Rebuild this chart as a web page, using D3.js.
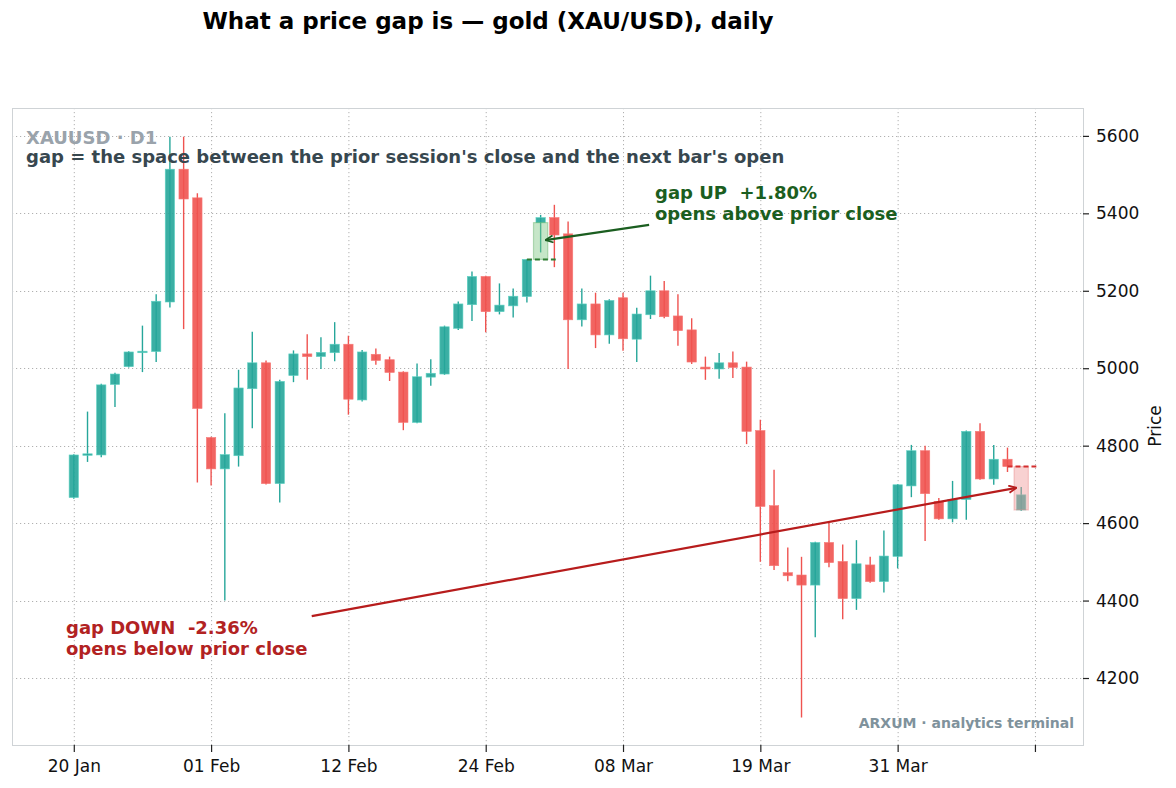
<!DOCTYPE html>
<html>
<head>
<meta charset="utf-8">
<script src="https://cdn.jsdelivr.net/npm/d3@7"></script>
<style>
  html, body { margin: 0; padding: 0; background: #ffffff; }
  svg { display: block; font-family: "DejaVu Sans", sans-serif; }
</style>
</head>
<body>
<svg id="chart" width="1176" height="788"></svg>
<script>
// ---- data ----
const opens  = [4666,4775,4776,4958,5004,5040,5043,5171,5514,5440,
                4821,4740,4774,4947,5014,4702,4981,5037,5030,5040,
                5062,4918,5036,5022,4990,4860,4977,4985,5103,5164,
                5237,5146,5161,5185,5376,5389,5347,5125,5166,5086,
                5182,5075,5138,5200,5135,5099,5003,4998,5014,5003,
                4839,4645,4472,4466,4440,4550,4501,4405,4492,4449,
                4514,4696,4787,4656,4611,4661,4837,4714,4765,4634];
const highs  = [4778,4888,4960,4988,5044,5110,5191,5598,5598,5452,
                4823,4884,4996,5094,5020,4970,5046,5088,5080,5119,
                5084,5047,5051,5030,4992,5012,5023,5110,5172,5250,
                5239,5219,5206,5282,5396,5422,5379,5206,5195,5178,
                5195,5156,5239,5225,5191,5129,5030,5039,5043,5017,
                4867,4738,4537,4513,4552,4604,4545,4556,4513,4581,
                4701,4802,4800,4665,4709,4839,4858,4802,4795,4693];
const lows   = [4663,4758,4770,4900,5002,4990,5016,5157,5101,4705,
                4697,4400,4746,4845,4700,4653,4964,4970,4998,5018,
                4880,4914,5009,4967,4840,4858,4955,4983,5099,5122,
                5093,5139,5131,5170,5299,5261,4998,5108,5052,5063,
                5045,5016,5127,5129,5058,5011,4970,4973,4975,4804,
                4500,4479,4450,4098,4305,4486,4352,4376,4446,4421,
                4483,4667,4554,4609,4602,4609,4712,4699,4732,4632];
const closes = [4776,4779,4957,4985,5042,5044,5173,5514,5437,4896,
                4740,4777,4949,5014,4702,4966,5037,5030,5041,5062,
                4920,5042,5020,4989,4860,4978,4987,5107,5166,5237,
                5146,5163,5186,5281,5389,5344,5125,5166,5086,5175,
                5076,5140,5200,5133,5097,5016,4998,5014,5002,4837,
                4643,4490,4464,4440,4550,4498,4405,4495,4449,4515,
                4699,4787,4676,4611,4661,4837,4714,4765,4746,4673];
const tickIdx    = [0,10,20,30,40,50,60,70];
const tickLabels = ["20 Jan","01 Feb","12 Feb","24 Feb","08 Mar","19 Mar","31 Mar",""];
const priceTicks = [4200,4400,4600,4800,5000,5200,5400,5600];
const gapUpIdx = 34;     // bar that opened above prior close
const gapDownIdx = 69;   // bar that opened below prior close

const bars = opens.map((o, i) => ({ i, o, h: highs[i], l: lows[i], c: closes[i] }));

// ---- layout ----
const svg = d3.select("#chart");
const L = 12, R = 1083, T = 108, B = 745;
const x = d3.scaleLinear().domain([-4.5, 73.5]).range([L, R]);
const y = d3.scaleLinear().domain([4027, 5672]).range([B, T]);
const UP = "#26a69a", DN = "#ef5350";
const slot = x(1) - x(0);
const bodyW = slot * 0.68;
const FONT = "DejaVu Sans";

// clip
const defs = svg.append("defs");
defs.append("clipPath").attr("id", "plotclip")
  .append("rect").attr("x", L).attr("y", T).attr("width", R - L).attr("height", B - T);

// grid
const grid = svg.append("g").attr("stroke", "#b0b0b0").attr("stroke-width", 1)
  .attr("stroke-dasharray", "1.2,2.8");
grid.selectAll("line.v").data(tickIdx).join("line")
  .attr("x1", d => x(d) + 0.5).attr("x2", d => x(d) + 0.5).attr("y1", T).attr("y2", B);
grid.selectAll("line.h").data(priceTicks).join("line")
  .attr("x1", L).attr("x2", R).attr("y1", d => Math.round(y(d)) + 0.5).attr("y2", d => Math.round(y(d)) + 0.5);

// frame
svg.append("rect").attr("x", L + 0.5).attr("y", T + 0.5).attr("width", R - L).attr("height", B - T)
  .attr("fill", "none").attr("stroke", "#cfd3d6").attr("stroke-width", 1);

// axes
const xAxis = d3.axisBottom(x).tickValues(tickIdx).tickFormat((d, k) => tickLabels[k])
  .tickSize(7).tickPadding(7.5);
const gx = svg.append("g").attr("transform", `translate(0,${B})`).call(xAxis);
gx.select(".domain").remove();
gx.selectAll("text").attr("font-size", 17).attr("fill", "#111").attr("font-family", FONT);
gx.selectAll("line").attr("stroke", "#222").attr("stroke-width", 1.2);

const yAxis = d3.axisRight(y).tickValues(priceTicks).tickFormat(d3.format("d")).tickSize(6).tickPadding(7);
const gy = svg.append("g").attr("transform", `translate(${R},0)`).call(yAxis);
gy.select(".domain").remove();
gy.selectAll("text").attr("font-size", 17).attr("fill", "#111").attr("font-family", FONT);
gy.selectAll("line").attr("stroke", "#222").attr("stroke-width", 1.2);

svg.append("text").attr("transform", `translate(1161,426) rotate(-90)`)
  .attr("text-anchor", "middle").attr("font-size", 17).attr("fill", "#111").text("Price");

// candles
const plot = svg.append("g").attr("clip-path", "url(#plotclip)");
const cg = plot.selectAll("g.candle").data(bars).join("g").attr("class", "candle");
cg.append("line")
  .attr("x1", d => x(d.i)).attr("x2", d => x(d.i))
  .attr("y1", d => y(d.h)).attr("y2", d => y(d.l))
  .attr("stroke", d => d.c >= d.o ? UP : DN).attr("stroke-width", 1.4);
cg.append("rect")
  .attr("x", d => x(d.i) - bodyW / 2).attr("width", bodyW)
  .attr("y", d => y(Math.max(d.o, d.c)))
  .attr("height", d => Math.max(1.5, Math.abs(y(d.o) - y(d.c))))
  .attr("fill", d => d.c >= d.o ? UP : DN).attr("fill-opacity", 0.9)
  .attr("stroke", d => d.c >= d.o ? "#5fd3c4" : "#f77a77").attr("stroke-width", 0.6);

// gap highlights
function gapBox(idx, fill, stroke, dash) {
  const prevClose = closes[idx - 1], open = opens[idx];
  plot.append("rect")
    .attr("x", x(idx - 0.52)).attr("width", x(idx + 0.52) - x(idx - 0.52))
    .attr("y", y(Math.max(prevClose, open)))
    .attr("height", Math.abs(y(prevClose) - y(open)))
    .attr("fill", fill).attr("fill-opacity", 0.45)
    .attr("stroke", stroke).attr("stroke-opacity", 0.35).attr("stroke-width", 1.2);
  plot.append("line")
    .attr("x1", x(idx - 1)).attr("x2", x(idx + 1.1))
    .attr("y1", y(prevClose)).attr("y2", y(prevClose))
    .attr("stroke", dash).attr("stroke-width", 2).attr("stroke-dasharray", "5,3");
}
gapBox(gapUpIdx, "#81c784", "#43a047", "#2e7d32");
gapBox(gapDownIdx, "#ef9a9a", "#e57373", "#d32f2f");

// arrows
function marker(id, color) {
  defs.append("marker").attr("id", id).attr("viewBox", "0 0 10 10").attr("refX", 9.5).attr("refY", 5)
    .attr("markerWidth", 9).attr("markerHeight", 9).attr("markerUnits", "userSpaceOnUse").attr("orient", "auto")
    .append("path").attr("d", "M1,1 L9.5,5 L1,9").attr("fill", "none").attr("stroke", color).attr("stroke-width", 2);
}
marker("arrUp", "#1b5e20");
marker("arrDn", "#b71c1c");

const upPct = (opens[gapUpIdx] / closes[gapUpIdx - 1] - 1) * 100;
const dnPct = (opens[gapDownIdx] / closes[gapDownIdx - 1] - 1) * 100;

svg.append("line")
  .attr("x1", x(41.9)).attr("y1", y(5370)).attr("x2", x(34.35)).attr("y2", y(5331))
  .attr("stroke", "#1b5e20").attr("stroke-width", 2.2).attr("marker-end", "url(#arrUp)");
svg.append("line")
  .attr("x1", x(17.33)).attr("y1", y(4360)).attr("x2", x(68.65)).attr("y2", y(4691))
  .attr("stroke", "#b71c1c").attr("stroke-width", 2.2).attr("marker-end", "url(#arrDn)");

const upT = svg.append("text").attr("font-size", 18).attr("font-weight", "bold").attr("fill", "#1b5e20");
upT.append("tspan").attr("x", 655).attr("y", 199).attr("xml:space", "preserve")
  .text("gap UP  +" + upPct.toFixed(2) + "%");
upT.append("tspan").attr("x", 655).attr("y", 220).text("opens above prior close");

const dnT = svg.append("text").attr("font-size", 18).attr("font-weight", "bold").attr("fill", "#b22222");
dnT.append("tspan").attr("x", 66).attr("y", 634).attr("xml:space", "preserve")
  .text("gap DOWN  " + dnPct.toFixed(2) + "%");
dnT.append("tspan").attr("x", 66).attr("y", 655).text("opens below prior close");

// header texts
svg.append("text").attr("x", 26).attr("y", 144).attr("font-size", 18).attr("font-weight", "bold")
  .attr("fill", "#9aa3ab").text("XAUUSD · D1");
svg.append("text").attr("x", 26).attr("y", 163).attr("font-size", 18).attr("font-weight", "bold")
  .attr("fill", "#37474f").text("gap = the space between the prior session's close and the next bar's open");

svg.append("text").attr("x", 1074).attr("y", 728).attr("text-anchor", "end").attr("font-size", 14)
  .attr("font-weight", "bold").attr("fill", "#7f929c").text("ARXUM · analytics terminal");

// title
svg.append("text").attr("x", 488).attr("y", 29).attr("text-anchor", "middle").attr("font-size", 23)
  .attr("font-weight", "bold").attr("fill", "#000").text("What a price gap is — gold (XAU/USD), daily");
</script>
</body>
</html>
